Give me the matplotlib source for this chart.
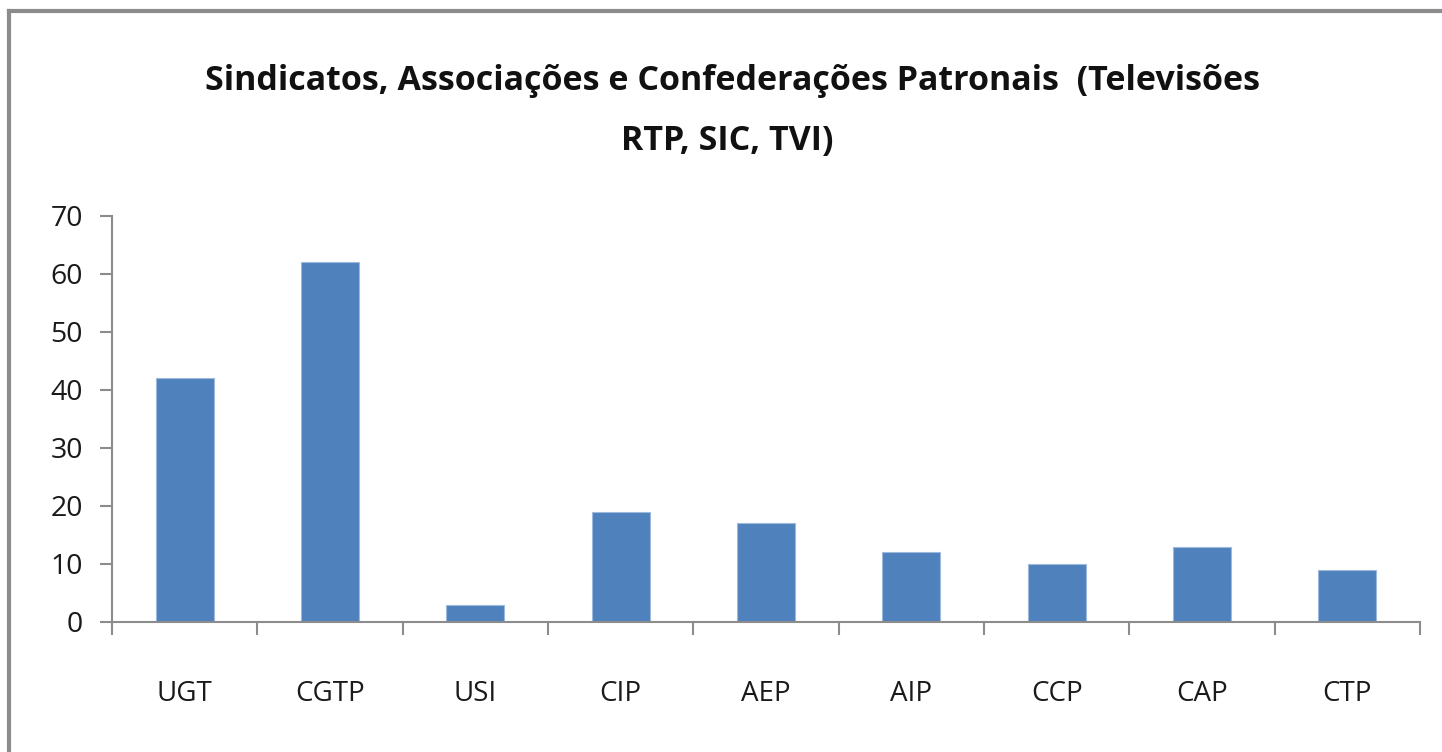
import matplotlib.pyplot as plt
from matplotlib.lines import Line2D
import numpy as np

categories = ['UGT', 'CGTP', 'USI', 'CIP', 'AEP', 'AIP', 'CCP', 'CAP', 'CTP']
values = [42, 62, 3, 19, 17, 12, 10, 13, 9]
yticks = [0, 10, 20, 30, 40, 50, 60, 70]

plt.rcParams['font.family'] = ['Open Sans', 'DejaVu Sans']

fig = plt.figure(figsize=(14.42, 7.52), dpi=100)
ax = fig.add_axes([0.0777, 0.1729, 0.907, 0.5399])

x = np.arange(len(categories))
ax.bar(x, values, width=0.4, color='#4F81BD', edgecolor='#9DB9DD', linewidth=0.8)

ax.set_xlim(-0.5, len(categories) - 0.5)
ax.set_ylim(0, 70)
ax.set_yticks(yticks)
ax.set_xticks(x)
ax.set_xticklabels(categories)
ax.set_xticks(np.arange(len(categories) + 1) - 0.5, minor=True)

axis_col = '#8C8C8C'
for side in ['top', 'right']:
    ax.spines[side].set_visible(False)
for side in ['left', 'bottom']:
    ax.spines[side].set_color(axis_col)
    ax.spines[side].set_linewidth(1.5)

ax.tick_params(axis='y', direction='out', length=9, width=1.5, color=axis_col,
               labelsize=20.5, labelcolor='#1a1a1a', pad=12)
ax.tick_params(axis='x', which='major', length=0, labelsize=20,
               labelcolor='#1a1a1a', pad=42)
ax.tick_params(axis='x', which='minor', direction='out', length=9, width=1.5,
               color=axis_col)

fig.text(0.508, 0.88, 'Sindicatos, Associações e Confederações Patronais  (Televisões',
         ha='center', va='baseline', fontsize=24.5, fontweight='bold', color='#111111')
fig.text(0.504, 0.80, 'RTP, SIC, TVI)',
         ha='center', va='baseline', fontsize=24.5, fontweight='bold', color='#111111')

# chart border (top and left visible)
fig.add_artist(Line2D([0.0065, 1.0], [0.986, 0.986], color='#8C8C8C', lw=3,
                      transform=fig.transFigure))
fig.add_artist(Line2D([0.0065, 0.0065], [0.0, 0.986], color='#8C8C8C', lw=3,
                      transform=fig.transFigure))

fig.savefig('out.png', dpi=100)
